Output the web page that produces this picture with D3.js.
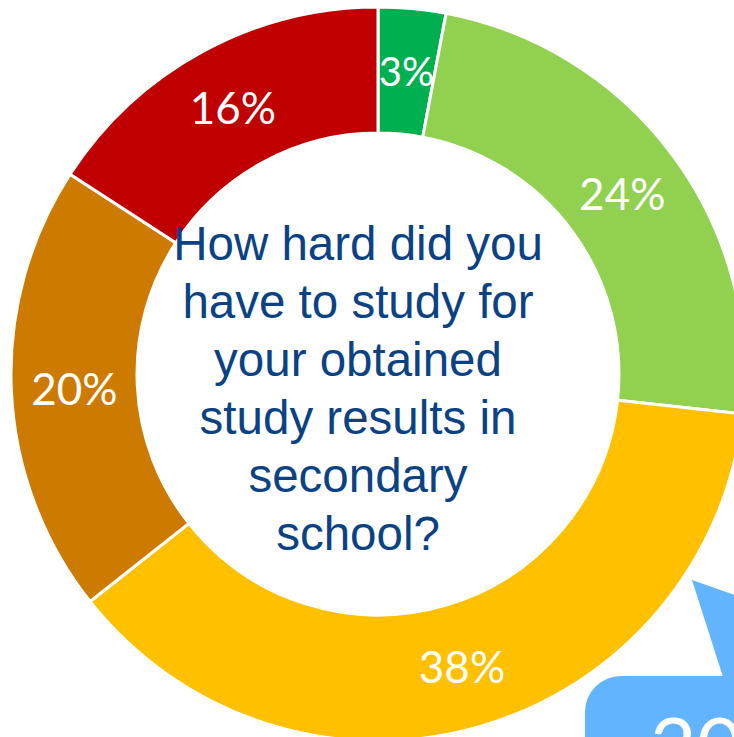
<!DOCTYPE html>
<html>
<head>
<meta charset="utf-8">
<script src="https://cdn.jsdelivr.net/npm/d3@7"></script>
<style>
  html, body { margin: 0; padding: 0; background: #fff; overflow: hidden; }
  svg { display: block; }
</style>
</head>
<body>
<svg id="chart" width="734" height="737"></svg>
<script>
// Survey answers, clockwise from 12 o'clock
const categories = ["Very hard", "Hard", "Moderately", "Little", "Not at all"];
const shares = [3, 24, 38, 20, 16];
const sliceColors = ["#00B050", "#92D050", "#FFC000", "#CC7A00", "#C00000"];
const labelSizes = [40, 44, 44, 44, 44];
const questionLines = ["How hard did you", "have to study for", "your obtained", "study results in", "secondary", "school?"];
const calloutText = "20%";

const svg = d3.select("#chart");
const cx = 378, cy = 374;
const outerR = 367, innerR = 241;

const pie = d3.pie().sort(null).value(d => d.value);
const arcs = pie(categories.map((c, i) => ({ name: c, value: shares[i], color: sliceColors[i], size: labelSizes[i] })));

const arc = d3.arc().innerRadius(innerR).outerRadius(outerR);
const labelArc = d3.arc().innerRadius((innerR + outerR) / 2).outerRadius((innerR + outerR) / 2);

const g = svg.append("g").attr("transform", `translate(${cx},${cy})`);

g.selectAll("path.slice")
  .data(arcs)
  .join("path")
  .attr("class", "slice")
  .attr("d", arc)
  .attr("fill", d => d.data.color)
  .attr("stroke", "#ffffff")
  .attr("stroke-width", 3)
  .attr("stroke-linejoin", "miter");

g.selectAll("text.pct")
  .data(arcs)
  .join("text")
  .attr("class", "pct")
  .attr("transform", d => `translate(${labelArc.centroid(d)})`)
  .attr("text-anchor", "middle")
  .attr("dominant-baseline", "central")
  .attr("fill", "#ffffff")
  .attr("font-family", "Lato, 'Open Sans', sans-serif")
  .attr("font-size", d => d.data.size)
  .text(d => d.data.value + "%");

// Question in the hole of the donut
const q = svg.append("text")
  .attr("text-anchor", "middle")
  .attr("fill", "#0A4283")
  .attr("font-family", "'Liberation Sans', Arial, sans-serif")
  .attr("font-size", 47.5);
questionLines.forEach((line, i) => {
  q.append("tspan").attr("x", 358).attr("y", 260 + i * 58).text(line);
});

// Speech-bubble callout in the lower right corner
const bubble = svg.append("g");
bubble.append("path")
  .attr("d", "M692,580 L760,604 L760,700 L723,677 Z")
  .attr("fill", "#63B4FF");
bubble.append("rect")
  .attr("x", 585).attr("y", 676)
  .attr("width", 260).attr("height", 140)
  .attr("rx", 36).attr("ry", 36)
  .attr("fill", "#63B4FF");
bubble.append("text")
  .attr("x", 650).attr("y", 775)
  .attr("fill", "#ffffff")
  .attr("font-family", "Lato, 'Open Sans', sans-serif")
  .attr("font-size", 80)
  .text(calloutText);
</script>
</body>
</html>
